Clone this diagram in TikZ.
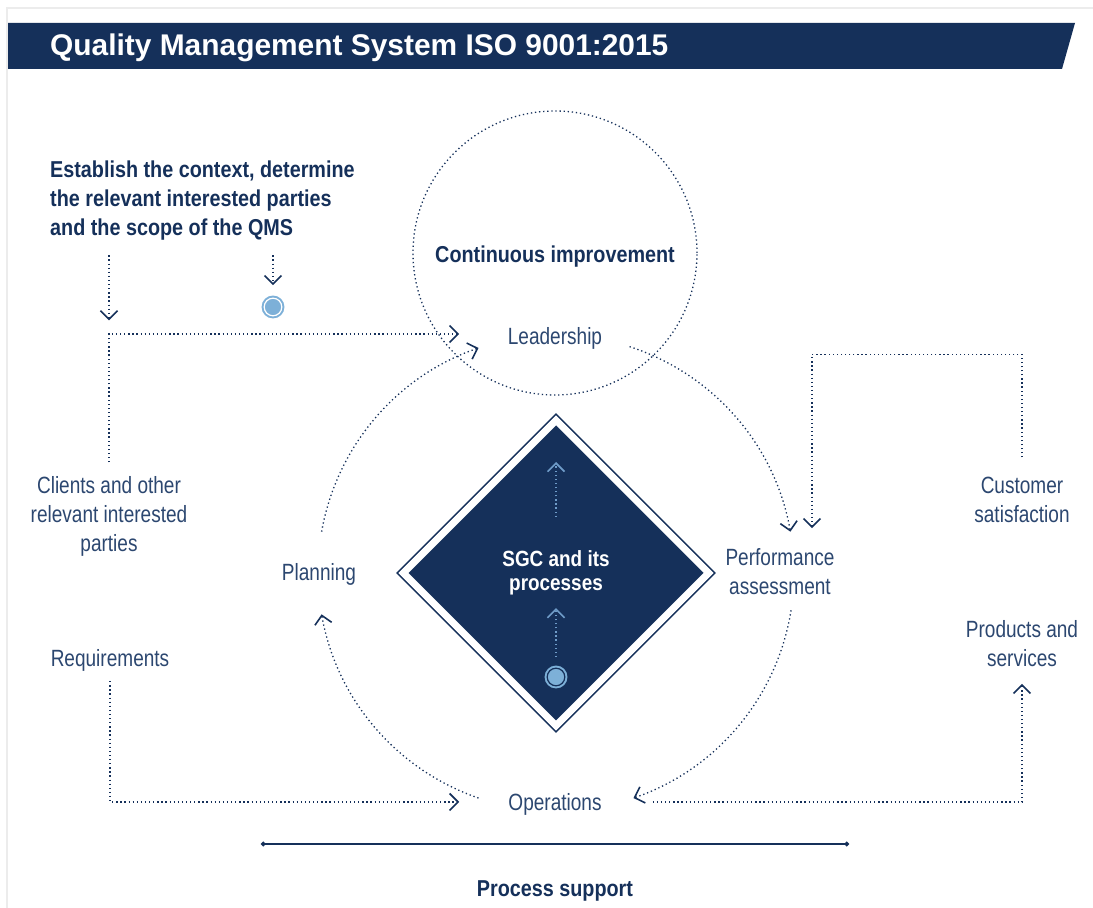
\documentclass[tikz,border=0pt]{standalone}
\usepackage{fontspec}
\setmainfont{Liberation Sans}
\newfontfamily\condreg{Liberation Sans}[FakeStretch=0.81]
\newfontfamily\condbold{Liberation Sans}[FakeStretch=0.86]
\usetikzlibrary{shapes.geometric,arrows.meta}

\definecolor{navy}{HTML}{15305A}
\definecolor{txt}{HTML}{2C4770}
\definecolor{lblue}{HTML}{7DB0D8}
\definecolor{ablue}{HTML}{6F9CC9}

\begin{document}
\begin{tikzpicture}[x=1pt,y=1pt,
    lbl/.style={text=txt, font=\condreg\fontsize{23.5}{29}\selectfont, align=center, inner sep=3pt},
    hd/.style={text=navy, font=\condbold\bfseries\fontsize{23}{29}\selectfont, align=center, inner sep=3pt},
    flow/.style={draw=navy, line width=1.3pt, dash pattern=on 1.3pt off 2.8pt},
    innerflow/.style={draw=ablue, line width=1.3pt, dash pattern=on 1.3pt off 2.8pt},
    marker/.style={circle, minimum size=17.6pt, inner sep=0pt, fill=lblue, draw=lblue, line width=2pt, double distance=1.2pt},
    >={Straight Barb[length=8.5pt,width=17pt,line width=1.6pt]}]
    \useasboundingbox (0,0) rectangle (1093,908);
    \draw[gray!15, line width=1.5pt] (7,0) -- (7,900) -- (1093,900);

    % title bar
    \fill[navy] (8,885) -- (1075,885) -- (1062,839) -- (8,839) -- cycle;
    \node[anchor=base west, text=white, font=\bfseries\fontsize{29.9}{35}\selectfont, inner sep=0pt] (title) at (50,852) {Quality Management System ISO 9001:2015};

    \node[circle, flow, minimum size=284pt] (impr) at (555,655) {};
    \node[hd] (cont) at (555,651) {Continuous improvement};
    \node[hd, align=left, anchor=west, inner sep=0pt] (est) at (50,707.6) {Establish the context, determine\\the relevant interested parties\\and the scope of the QMS};

    \node[diamond, minimum size=306pt, inner sep=0pt, fill=navy, draw=navy, line width=1.5pt, double=white, double distance=7pt,
          text=white, font=\condbold\bfseries\fontsize{22}{24}\selectfont, align=center] (sgc) at (556,335) {SGC and its\\processes};
    \node[marker, double=white] (m1) at (273,601) {};
    \node[marker, double=navy] (m2) at (556,231) {};

    \node[lbl] (lead) at (555,569.5) {Leadership};
    \node[lbl] (plan) at (319,333.6) {Planning};
    \node[lbl] (perf) at (780,336.5) {Performance\\assessment};
    \node[lbl] (ops) at (555,103.6) {Operations};
    \node[lbl] (clients) at (109,391.5) {Clients and other\\relevant interested\\parties};
    \node[lbl] (req) at (110,248) {Requirements};
    \node[lbl] (cust) at (1022,408.5) {Customer\\satisfaction};
    \node[lbl] (prod) at (1022,264.5) {Products and\\services};
    \node[hd] (sup) at (555,16.6) {Process support};

    % cycle round the diamond
    \draw[flow,->] ([shift={(170:238)}]sgc.center) arc[start angle=170, end angle=109, radius=238];
    \draw[flow,->] ([shift={(72:238)}]sgc.center) arc[start angle=72, end angle=10, radius=238];
    \draw[flow,->] ([shift={(-9:238)}]sgc.center) arc[start angle=-9, end angle=-71, radius=238];
    \draw[flow,->] ([shift={(251:238)}]sgc.center) arc[start angle=251, end angle=190, radius=238];

    \draw[innerflow,->] (sgc.center) ++(0,56) -- ++(0,55);
    \draw[innerflow,->] ([yshift=10]m2.north) -- ++(0,49);

    \draw[flow,->] (est.south -| clients.north) ++(0,-15) -- ++(0,-65);
    \draw[flow,->] (est.south -| m1.north) ++(0,-15) -- ([yshift=12]m1.north);
    \draw[flow,->] ([yshift=11]clients.north) |- ([xshift=-45.5,yshift=4.5]lead.west);
    \draw[flow,->] ([yshift=16]cust.north) -- ++(0,103) -| ([xshift=32,yshift=17]perf.north);
    \draw[flow,->] ([xshift=48,yshift=2.4]ops.east) -| ([yshift=-14]prod.south);
    \draw[flow,->] ([yshift=-7]req.south) |- ([xshift=-46,yshift=2.4]ops.west);

    \coordinate (supl) at (261,64);
    \coordinate (supr) at (849,64);
    \draw[navy, line width=1.5pt, {Circle[length=4.5pt]}-{Circle[length=4.5pt]}] (supl) -- (supr);
\end{tikzpicture}
\end{document}
